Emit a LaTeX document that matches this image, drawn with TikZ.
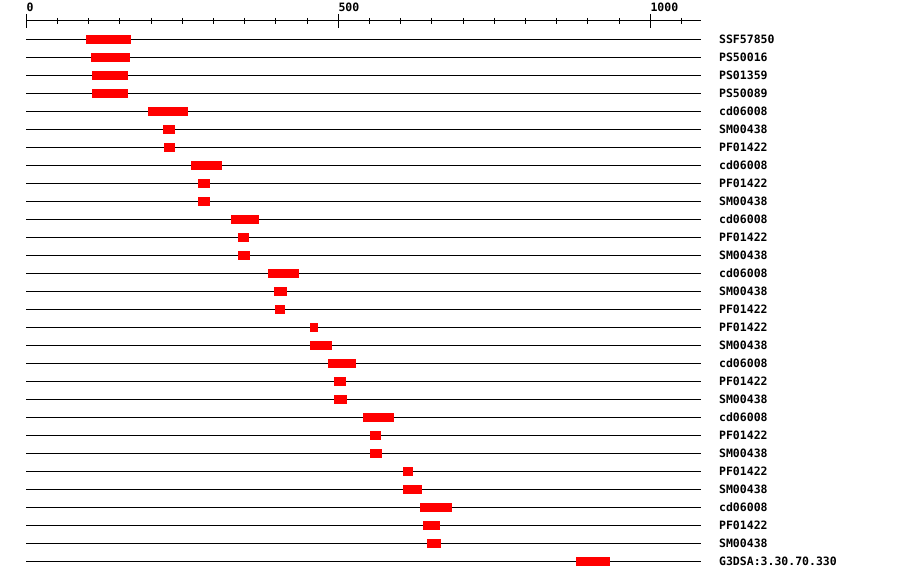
\documentclass[tikz,border=0pt]{standalone}
\usepackage{fontspec}
\usepackage{tikz}
\newfontfamily\monofont{DejaVu Sans Mono}

\begin{document}
\begin{tikzpicture}[
        x = 0.624pt, y = -1pt,
        track/.style = {line width = 1pt},
        hit/.style = {fill = red},
        lbl/.style = {anchor = base west, inner sep = 0pt, font = \monofont\bfseries\fontsize{11.5}{13}\selectfont}
    ]
        \useasboundingbox (-42.15,0) rectangle (1400.16,580);
        % scale
        \draw[track] (0,21) -- (1081,21);
        \foreach \t in {0,50,...,1050} \draw[track] (\t,18) -- (\t,24);
        \foreach \t in {0,500,1000} {
            \draw[track] (\t,14) -- (\t,28);
            \node[lbl] (tick\t) at (\t,12) {\t};
        }
        % one track per domain hit
        \foreach \lab/\s/\e [count=\i from 0] in {
            SSF57850/96/168, PS50016/104/166, PS01359/105/163, PS50089/105/163,
            cd06008/195/259, SM00438/219/238, PF01422/221/238,
            cd06008/264/314, PF01422/275/294, SM00438/275/294,
            cd06008/328/373, PF01422/339/357, SM00438/339/359,
            cd06008/387/437, SM00438/397/418, PF01422/399/415,
            PF01422/454/467, SM00438/454/490,
            cd06008/483/528, PF01422/493/512, SM00438/493/514,
            cd06008/540/589, PF01422/551/568, SM00438/551/570,
            PF01422/604/620, SM00438/604/634,
            cd06008/631/682, PF01422/636/663, SM00438/642/665,
            G3DSA:3.30.70.330/881/935} {
            \pgfmathsetmacro\y{39.3+18*\i}
            \draw[track] (0,\y) -- (1081,\y);
            \fill[hit] (\s,\y-4.5) rectangle (\e,\y+4.5);
            \node[lbl] (row\i) at (1110,\y+4) {\lab};
        }
    \end{tikzpicture}
\end{document}
